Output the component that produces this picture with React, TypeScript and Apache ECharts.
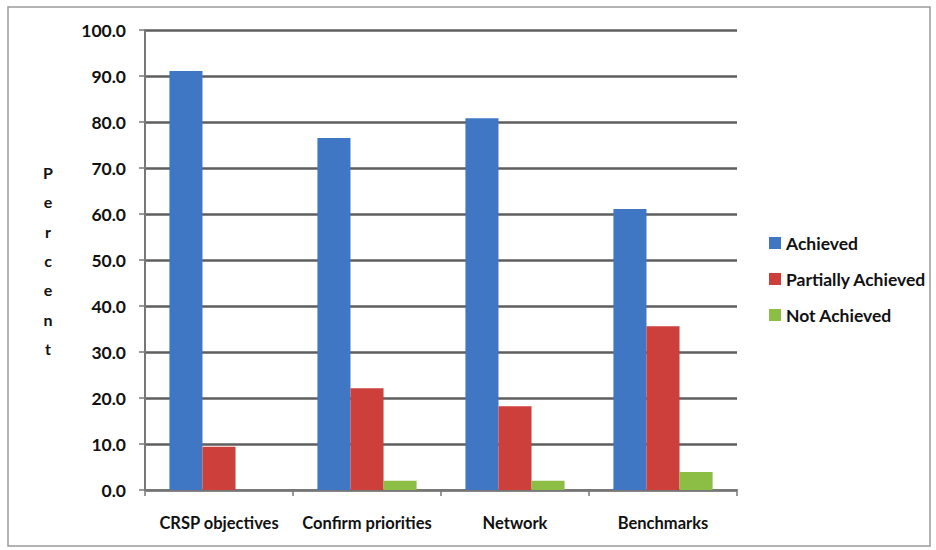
import React, { useEffect, useRef } from "react";
import * as echarts from "echarts";

const categories = ["CRSP objectives", "Confirm priorities", "Network", "Benchmarks"];
const achieved = [91.1, 76.5, 80.8, 61.1];
const partiallyAchieved = [9.4, 22.1, 18.2, 35.6];
const notAchieved = [0, 2.0, 2.0, 3.9];
const yTicks = { min: 0, max: 100, interval: 10 };

const FONT = "Lato";

export default function App() {
  const ref = useRef<HTMLDivElement>(null);
  useEffect(() => {
    const chart = echarts.init(ref.current!, null, { renderer: "svg" });
    const barBase = { type: "bar", barGap: "0%", barCategoryGap: "33%" };
    chart.setOption({
      animation: false,
      backgroundColor: "#ffffff",
      grid: { left: 145, right: 199, top: 30, bottom: 60 },
      legend: {
        orient: "vertical",
        left: 764,
        top: 229,
        itemWidth: 12,
        itemHeight: 12,
        itemGap: 18,
        icon: "rect",
        textStyle: { fontFamily: FONT, fontWeight: "bold", fontSize: 17.5, color: "#111" },
        data: ["Achieved", "Partially Achieved", "Not Achieved"],
      },
      xAxis: {
        type: "category",
        data: categories,
        axisLine: { lineStyle: { color: "#777", width: 2 } },
        axisTick: { show: true, interval: 0, length: 6, lineStyle: { color: "#777", width: 1.5 } },
        axisLabel: {
          interval: 0,
          fontFamily: FONT,
          fontWeight: "bold",
          fontSize: 16.5,
          color: "#111",
          margin: 24,
        },
      },
      yAxis: {
        type: "value",
        min: yTicks.min,
        max: yTicks.max,
        interval: yTicks.interval,
        axisLine: { show: true, lineStyle: { color: "#777", width: 2 } },
        axisTick: { show: true, length: 6, lineStyle: { color: "#777", width: 1.5 } },
        axisLabel: {
          fontFamily: FONT,
          fontWeight: "bold",
          fontSize: 17.5,
          color: "#111",
          margin: 19,
          formatter: (v: number) => v.toFixed(1),
        },
        splitLine: { lineStyle: { color: "#5e5e5e", width: 2.5 } },
      },
      series: [
        { ...barBase, name: "Achieved", data: achieved, itemStyle: { color: "#3f77c4" } },
        { ...barBase, name: "Partially Achieved", data: partiallyAchieved, itemStyle: { color: "#cc3f3b" } },
        { ...barBase, name: "Not Achieved", data: notAchieved, itemStyle: { color: "#8cbd45" } },
      ],
      graphic: [
        {
          type: "rect",
          shape: { x: 8, y: 7, width: 922, height: 539 },
          style: { fill: "none", stroke: "#9a9a9a", lineWidth: 1.5 },
          silent: true,
        },
        {
          type: "text",
          x: 48,
          y: 158,
          style: {
            text: "P\ne\nr\nc\ne\nn\nt",
            fontFamily: FONT,
            fontWeight: "bold",
            fontSize: 16,
            lineHeight: 29.3,
            fill: "#111",
            align: "center",
          },
        },
      ],
    });
    return () => chart.dispose();
  }, []);
  return (
    <div
      ref={ref}
      style={{ position: "fixed", left: 0, top: 0, width: 936, height: 550 }}
    />
  );
}
